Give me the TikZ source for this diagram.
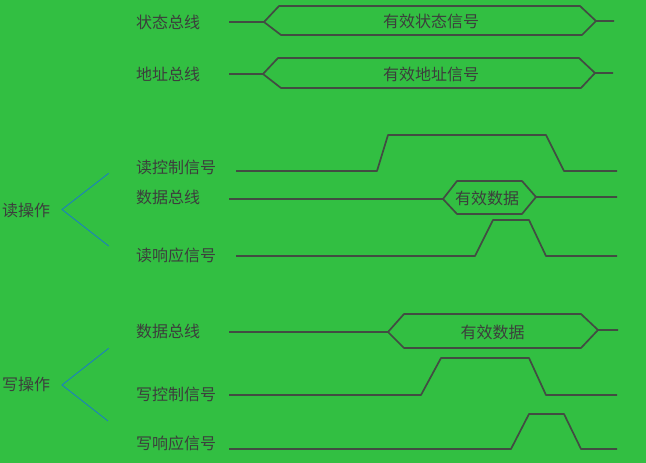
\documentclass[tikz,border=0pt]{standalone}
\usepackage{fontspec}
\setmainfont{Noto Sans CJK SC}
\usepackage{tikz}
\usetikzlibrary{shapes,arrows}
\usepackage{xcolor}
\definecolor{bggreen}{RGB}{50,191,66}
\definecolor{wavegray}{RGB}{66,76,66}
\definecolor{txtgray}{RGB}{60,62,60}
\definecolor{branchblue}{RGB}{28,128,190}

\begin{document}
\begin{tikzpicture}[x=1pt,y=-1pt,
		wave/.style={draw=wavegray, line width=1.7pt, line join=round},
		sig/.style={anchor=west, inner sep=0pt, text=txtgray, font=\fontsize{16}{16}\selectfont},
		val/.style={inner sep=0pt, text=txtgray, font=\fontsize{16}{16}\selectfont},
		branch/.style={draw=branchblue, line width=0.9pt}]
		\fill[bggreen] (0,0) rectangle (646,463);
		\useasboundingbox (0,0) rectangle (646,463);
		\node[sig] (stat) at (136,22) {状态总线};
		\node[sig] (addr) at (136,74) {地址总线};
		\node[sig] (rdctl) at (136,167) {读控制信号};
		\node[sig] (rddata) at (136,197.5) {数据总线};
		\node[sig] (rdack) at (136,255) {读响应信号};
		\node[sig] (wrdata) at (136,331) {数据总线};
		\node[sig] (wrctl) at (136,394) {写控制信号};
		\node[sig] (wrack) at (136,443.5) {写响应信号};
		\node[sig] (rd) at (2,210) {读操作};
		\node[sig] (wr) at (2,384) {写操作};
		\coordinate (rdfork) at (62,209.5);
		\coordinate (rdtop) at (108.7,173.3);
		\coordinate (rdbot) at (108.7,246);
		\coordinate (wrfork) at (62,385);
		\coordinate (wrtop) at (108.7,348.3);
		\coordinate (wrbot) at (108,421);
		\draw[branch] (rdtop) -- (rdfork) -- (rdbot);
		\draw[branch] (wrtop) -- (wrfork) -- (wrbot);
		\draw[wave] (229,22) -- (264,22) -- (279,6) -- (580,6) -- (596,21) -- (614,21);
		\draw[wave] (264,22) -- (281,35) -- (582,35) -- (596,21);
		\node[val] (statv) at (431,21.5) {有效状态信号};
		\draw[wave] (229,74) -- (263,74) -- (278,58) -- (579,58) -- (595,73) -- (613,73);
		\draw[wave] (263,74) -- (281,88) -- (581,88) -- (595,73);
		\node[val] (addrv) at (431,74.5) {有效地址信号};
		\draw[wave] (236,171) -- (377,171) -- (388,135) -- (546,135) -- (564,171) -- (617,171);
		\draw[wave] (229,199) -- (443,199) -- (457,181) -- (522,181) -- (536,197) -- (617,197);
		\draw[wave] (443,199) -- (457,214) -- (522,214) -- (536,197);
		\node[val] (rddatav) at (487,198.5) {有效数据};
		\draw[wave] (236,256) -- (475,256) -- (493,220) -- (529,220) -- (546,256) -- (617,256);
		\draw[wave] (229,332) -- (388,332) -- (404,314) -- (581,314) -- (598,330) -- (618,330);
		\draw[wave] (388,332) -- (404,348) -- (581,348) -- (598,330);
		\node[val] (wrdatav) at (492.5,332.5) {有效数据};
		\draw[wave] (229,395) -- (421,395) -- (441,358) -- (529,358) -- (546,395) -- (617,395);
		\draw[wave] (229,449) -- (511,449) -- (529,414) -- (564,414) -- (581,449) -- (617,449);
\end{tikzpicture}
\end{document}
